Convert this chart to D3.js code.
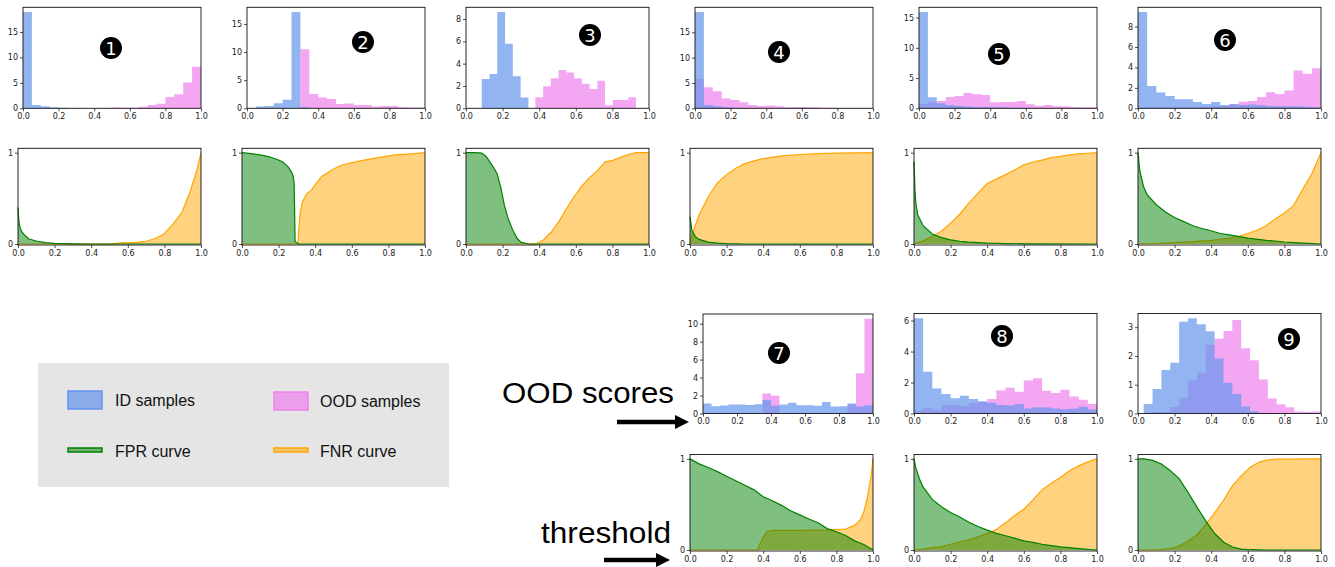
<!DOCTYPE html>
<html><head><meta charset="utf-8">
<script src="https://cdn.jsdelivr.net/npm/d3@7"></script>
<style>body{margin:0;background:#fff}svg{display:block}</style>
</head><body>
<svg id="c" width="1335" height="567"></svg>
<script>
// ---------------- DATA ----------------
const xTicks = [0, 0.2, 0.4, 0.6, 0.8, 1.0];
const curveYTicks = [0, 1];
const histYTicks = [[0,5,10,15],[0,5,10,15],[0,2,4,6,8],[0,5,10,15],[0,5,10,15],[0,2,4,6,8],[0,2,4,6,8,10],[0,2,4,6],[0,1,2,3]];
const panelLabels = ["1","2","3","4","5","6","7","8","9"];

// histogram ranges [lo, hi] (bins are equal width inside range)
const idRange  = [[0,1],[0,1],[0.086,0.341],[0,1],[0,1],[0,1],[0,1],[0,1],[0.031,1.0]];
const oodRange = [[0,1],[0,1],[0.379,0.929],[0,1],[0,1],[0,1],[0,1],[0,1],[0.031,1.0]];

const idCounts1 = [18.9,0.65,0.4,0.2,0.1,0.05,0.03,0.02,0.02,0.02,0.02,0.01,0.01,0.01,0.01,0.01,0.01,0.01,0.01,0.01];
const oodCounts1 = [0,0,0,0,0,0,0,0,0,0.08,0.15,0.12,0.1,0.3,0.65,0.9,2.2,2.75,5.05,8.15];
const idCounts2 = [0.05,0.3,0.4,0.9,1.5,17.1,0.2,0,0,0,0,0,0,0,0,0,0,0,0,0];
const oodCounts2 = [0,0,0,0,0,0,10.5,2.55,1.9,1.65,0.75,0.85,0.6,0.6,0.3,0.4,0.4,0.2,0.15,0.15];
const idCounts3 = [2.63,3.08,8.62,5.78,2.87,0.96];
const oodCounts3 = [0.99,1.98,2.69,3.44,3.2,2.69,2.19,1.74,2.46,0.27,0.75,0.75,0.99];
const idCounts4 = [19.0,0.66,0.4,0.2,0.1,0.05,0.03,0.02,0.02,0.01,0.01,0.01,0.01,0.01,0.01,0.01,0.01,0.01,0.01,0.01];
const oodCounts4 = [5.8,4.16,3.37,1.92,1.65,1.19,0.66,0.46,0.53,0.4,0.2,0.26,0.26,0.2,0.1,0.1,0.05,0.05,0.05,0.05];
const idCounts5 = [15.9,1.82,0.83,0.55,0.39,0.28,0.22,0.2,0.15,0.12,0.1,0.08,0.06,0.05,0.04,0.03,0.02,0.02,0.01,0.01];
const oodCounts5 = [0.72,1.0,1.2,1.88,2.04,2.54,2.32,2.2,1.0,1.05,1.05,1.2,0.66,0.44,0.55,0.33,0.33,0.22,0.17,0.17];
const idCounts6 = [9.41,2.19,1.54,1.21,0.88,0.88,0.62,0.42,0.62,0.33,0.39,0.33,0.36,0.29,0.23,0.2,0.2,0.2,0.15,0.1];
const oodCounts6 = [0.05,0.1,0.1,0.1,0.1,0.1,0.12,0.15,0.2,0.25,0.42,0.65,0.72,1.11,1.57,1.4,1.73,3.69,3.37,3.92];
const idCounts7 = [1.1,0.81,0.88,0.99,0.99,0.96,1.03,1.5,0.85,0.99,1.21,0.92,0.92,0.85,1.29,0.77,0.81,1.1,0.77,0.92];
const oodCounts7 = [0,0,0,0,0,0,0,2.24,1.99,0,0,0,0,0,0,0,0,1.0,4.49,10.55];
const idCounts8 = [6.15,2.7,1.62,1.26,0.98,1.15,0.94,0.79,0.7,0.55,0.51,0.62,0.32,0.4,0.38,0.32,0.28,0.3,0.43,0.26];
const oodCounts8 = [0.19,0.36,0.21,0.55,0.53,0.47,0.66,0.74,0.94,1.49,1.66,1.4,2.13,2.28,1.47,1.32,1.53,1.1,0.89,0.62];
const idCounts9 = [0.33,0.85,1.51,1.76,3.19,3.31,3.1,2.86,1.91,1.07,0.68,0.24,0.08,0.02,0,0,0,0,0,0];
const oodCounts9 = [0,0.05,0.05,0.23,0.55,1.15,1.42,2.39,2.6,2.87,3.25,2.27,1.85,1.18,0.52,0.32,0.22,0.07,0.05,0.07];

// curves: [threshold, rate]
const fpr1 = [[0,0.4],[0.005,0.25],[0.01,0.19],[0.02,0.135],[0.04,0.09],[0.06,0.055],[0.1,0.033],[0.15,0.015],[0.2,0.007],[0.3,0.002],[0.4,0],[1,0]];
const fnr1 = [[0,0],[0.5,0],[0.56,0.012],[0.65,0.018],[0.7,0.03],[0.75,0.06],[0.795,0.106],[0.85,0.226],[0.896,0.347],[0.94,0.57],[0.978,0.81],[1,1]];
const fpr2 = [[0,1],[0.05,0.99],[0.1,0.975],[0.15,0.955],[0.2,0.92],[0.22,0.9],[0.25,0.85],[0.27,0.79],[0.28,0.74],[0.285,0.66],[0.288,0.3],[0.29,0.03],[0.3,0.01],[0.31,0],[1,0]];
const fnr2 = [[0,0],[0.305,0],[0.31,0.15],[0.318,0.34],[0.33,0.46],[0.355,0.555],[0.38,0.59],[0.4,0.65],[0.436,0.74],[0.49,0.81],[0.545,0.865],[0.62,0.9],[0.727,0.94],[0.836,0.975],[0.945,0.99],[1,1]];
const fpr3 = [[0,1],[0.05,1],[0.086,0.995],[0.11,0.96],[0.13,0.9],[0.15,0.84],[0.17,0.77],[0.19,0.62],[0.21,0.42],[0.23,0.28],[0.256,0.15],[0.28,0.06],[0.3,0.02],[0.34,0],[1,0]];
const fnr3 = [[0,0],[0.38,0],[0.421,0.042],[0.464,0.126],[0.506,0.24],[0.548,0.386],[0.591,0.52],[0.633,0.634],[0.675,0.727],[0.717,0.8],[0.76,0.9],[0.802,0.916],[0.844,0.948],[0.887,0.98],[0.929,1],[1,1]];
const fpr4 = [[0,0.3],[0.01,0.15],[0.03,0.08],[0.05,0.05],[0.1,0.02],[0.15,0.01],[0.2,0.005],[0.3,0],[1,0]];
const fnr4 = [[0,0],[0.005,0.05],[0.02,0.15],[0.05,0.32],[0.075,0.42],[0.1,0.52],[0.15,0.67],[0.2,0.76],[0.25,0.83],[0.3,0.88],[0.35,0.91],[0.4,0.935],[0.5,0.965],[0.6,0.98],[0.7,0.99],[0.8,0.995],[1,1]];
const fpr5 = [[0,0.9],[0.005,0.6],[0.01,0.45],[0.02,0.32],[0.05,0.2],[0.1,0.11],[0.15,0.07],[0.2,0.045],[0.25,0.03],[0.3,0.02],[0.4,0.01],[0.5,0.005],[0.6,0.002],[1,0]];
const fnr5 = [[0,0],[0.05,0.034],[0.1,0.082],[0.15,0.139],[0.2,0.229],[0.25,0.326],[0.3,0.447],[0.35,0.557],[0.4,0.662],[0.45,0.71],[0.5,0.76],[0.55,0.81],[0.6,0.867],[0.65,0.898],[0.7,0.919],[0.75,0.945],[0.8,0.96],[0.85,0.976],[0.9,0.986],[0.95,0.994],[1,1]];
const fpr6 = [[0,1],[0.01,0.8],[0.03,0.63],[0.05,0.54],[0.1,0.43],[0.15,0.35],[0.2,0.29],[0.25,0.245],[0.3,0.2],[0.35,0.17],[0.4,0.145],[0.45,0.115],[0.5,0.1],[0.6,0.065],[0.7,0.04],[0.8,0.022],[0.9,0.01],[1,0]];
const fnr6 = [[0,0],[0.1,0.005],[0.2,0.015],[0.3,0.025],[0.4,0.04],[0.45,0.05],[0.5,0.065],[0.55,0.085],[0.6,0.115],[0.65,0.15],[0.7,0.2],[0.75,0.275],[0.8,0.34],[0.85,0.42],[0.9,0.6],[0.95,0.77],[1,1]];
const fpr7 = [[0,1],[0.05,0.945],[0.1,0.905],[0.15,0.86],[0.2,0.81],[0.25,0.76],[0.3,0.71],[0.35,0.66],[0.4,0.585],[0.45,0.54],[0.5,0.49],[0.55,0.43],[0.6,0.385],[0.65,0.34],[0.7,0.3],[0.75,0.235],[0.8,0.2],[0.85,0.16],[0.9,0.1],[0.95,0.06],[1,0]];
const fnr7 = [[0,0],[0.37,0],[0.38,0.06],[0.4,0.14],[0.42,0.2],[0.45,0.215],[0.6,0.215],[0.75,0.22],[0.85,0.23],[0.9,0.27],[0.93,0.33],[0.95,0.42],[0.97,0.58],[0.99,0.82],[1,1]];
const fpr8 = [[0,1],[0.01,0.9],[0.03,0.78],[0.05,0.69],[0.1,0.555],[0.15,0.474],[0.2,0.411],[0.25,0.362],[0.3,0.305],[0.35,0.258],[0.4,0.218],[0.45,0.183],[0.5,0.156],[0.55,0.13],[0.6,0.1],[0.65,0.083],[0.7,0.063],[0.75,0.048],[0.8,0.035],[0.85,0.025],[0.9,0.015],[0.95,0.006],[1,0]];
const fnr8 = [[0,0],[0.05,0.01],[0.1,0.027],[0.15,0.037],[0.2,0.063],[0.25,0.089],[0.3,0.112],[0.35,0.144],[0.4,0.18],[0.45,0.225],[0.5,0.298],[0.55,0.379],[0.6,0.447],[0.65,0.55],[0.7,0.66],[0.75,0.732],[0.8,0.796],[0.85,0.87],[0.9,0.923],[0.95,0.967],[1,1]];
const fpr9 = [[0,1],[0.031,1],[0.08,0.984],[0.128,0.943],[0.177,0.87],[0.225,0.784],[0.274,0.629],[0.323,0.468],[0.371,0.317],[0.42,0.178],[0.468,0.085],[0.517,0.033],[0.565,0.01],[0.614,0.003],[0.7,0],[1,0]];
const fnr9 = [[0,0],[0.08,0],[0.128,0.005],[0.177,0.016],[0.225,0.043],[0.274,0.099],[0.323,0.168],[0.371,0.284],[0.42,0.41],[0.468,0.549],[0.517,0.707],[0.565,0.817],[0.614,0.907],[0.662,0.964],[0.711,0.989],[0.76,0.997],[1,1]];

const legendItems = ["ID samples","OOD samples","FPR curve","FNR curve"];
const sideLabels = ["OOD scores","threshold"];

// ---------------- LAYOUT ----------------
const idCounts = [idCounts1,idCounts2,idCounts3,idCounts4,idCounts5,idCounts6,idCounts7,idCounts8,idCounts9];
const oodCounts = [oodCounts1,oodCounts2,oodCounts3,oodCounts4,oodCounts5,oodCounts6,oodCounts7,oodCounts8,oodCounts9];
const fprs = [fpr1,fpr2,fpr3,fpr4,fpr5,fpr6,fpr7,fpr8,fpr9];
const fnrs = [fnr1,fnr2,fnr3,fnr4,fnr5,fnr6,fnr7,fnr8,fnr9];

const histBoxes = [
  {l:23,r:201,t:7.3,b:108.3},{l:247,r:425,t:7.3,b:108.3},{l:466,r:649,t:7.3,b:108.3},
  {l:695,r:873,t:7.3,b:108.3},{l:919,r:1097,t:7.3,b:108.3},{l:1138,r:1321,t:7.3,b:108.3},
  {l:703,r:873,t:314,b:413.5},{l:914,r:1097,t:313.5,b:413.5},{l:1138,r:1321,t:313.5,b:413.5}];
const curveBoxes = [
  {l:18,r:201,t:148.3,b:245},{l:242,r:425,t:148.3,b:245},{l:466,r:649,t:148.3,b:245},
  {l:690,r:873,t:148.3,b:245},{l:914,r:1097,t:148.3,b:245},{l:1138,r:1321,t:148.3,b:245},
  {l:690,r:873,t:454.5,b:551},{l:914,r:1097,t:454.5,b:551},{l:1138,r:1321,t:454.5,b:551}];
const badgePos = [[111,48],[363,42],[590,35],[779,52],[999,54],[1225,40],[779,353],[1002,336],[1289,339]];

const BLUE = "#6495ed", PINK = "#ee82ee", GREEN = "#008000", ORANGE = "#ffa500";
const svg = d3.select("#c");
svg.append("rect").attr("width",1335).attr("height",567).attr("fill","#fff");

function styleAxis(g){
  g.select(".domain").remove();
  g.selectAll(".tick line").attr("stroke","#222").attr("stroke-width",0.8);
  g.selectAll(".tick text").attr("fill","#222").style("font-family","DejaVu Sans").style("font-size","8px");
}

function drawAxes(g, box, xs, ys, yTicks){
  g.append("g").attr("transform",`translate(0,${box.b})`)
    .call(d3.axisBottom(xs).tickValues(xTicks).tickFormat(d3.format(".1f")).tickSize(3).tickPadding(2))
    .call(styleAxis);
  g.append("g").attr("transform",`translate(${box.l},0)`)
    .call(d3.axisLeft(ys).tickValues(yTicks).tickFormat(d3.format("d")).tickSize(3).tickPadding(2))
    .call(styleAxis);
  g.append("rect").attr("x",box.l).attr("y",box.t).attr("width",box.r-box.l).attr("height",box.b-box.t)
    .attr("fill","none").attr("stroke","#111").attr("stroke-width",0.9);
}

function stepPoints(range, counts){
  const n = counts.length, w = (range[1]-range[0])/n;
  const pts = [[range[0],0]];
  counts.forEach((c,i)=>{ pts.push([range[0]+i*w,c]); pts.push([range[0]+(i+1)*w,c]); });
  pts.push([range[1],0]);
  return pts;
}

for (let i=0;i<9;i++){
  // histogram
  const hb = histBoxes[i];
  const g = svg.append("g");
  const ymax = d3.max(idCounts[i].concat(oodCounts[i]))*1.05;
  const xs = d3.scaleLinear().domain([0,1]).range([hb.l,hb.r]);
  const ys = d3.scaleLinear().domain([0,ymax]).range([hb.b,hb.t]);
  const line = d3.line().x(d=>xs(d[0])).y(d=>ys(d[1]));
  g.append("path").attr("d",line(stepPoints(oodRange[i],oodCounts[i]))+"Z").attr("fill",PINK).attr("fill-opacity",0.7);
  g.append("path").attr("d",line(stepPoints(idRange[i],idCounts[i]))+"Z").attr("fill",BLUE).attr("fill-opacity",0.7);
  drawAxes(g,hb,xs,ys,histYTicks[i]);

  // curves
  const cb = curveBoxes[i];
  const gc = svg.append("g");
  const cx = d3.scaleLinear().domain([0,1]).range([cb.l,cb.r]);
  const cy = d3.scaleLinear().domain([-0.011,1.048]).range([cb.b,cb.t]);
  const area = d3.area().x(d=>cx(d[0])).y0(cy(0)).y1(d=>cy(d[1]));
  const ln = d3.line().x(d=>cx(d[0])).y(d=>cy(d[1]));
  gc.append("path").attr("d",area(fnrs[i])).attr("fill",ORANGE).attr("fill-opacity",0.5);
  gc.append("path").attr("d",ln(fnrs[i])).attr("fill","none").attr("stroke",ORANGE).attr("stroke-width",1.2);
  gc.append("path").attr("d",area(fprs[i])).attr("fill",GREEN).attr("fill-opacity",0.5);
  gc.append("path").attr("d",ln(fprs[i])).attr("fill","none").attr("stroke",GREEN).attr("stroke-width",1.2);
  drawAxes(gc,cb,cx,cy,curveYTicks);

  // badge
  const bp = badgePos[i];
  svg.append("circle").attr("cx",bp[0]).attr("cy",bp[1]).attr("r",11).attr("fill","#000");
  svg.append("text").attr("x",bp[0]).attr("y",bp[1]+6.5).attr("text-anchor","middle")
    .attr("fill","#fff").style("font-family","DejaVu Sans").style("font-size","18px").text(panelLabels[i]);
}

// legend
const lg = svg.append("g");
lg.append("rect").attr("x",38).attr("y",363).attr("width",411).attr("height",124).attr("fill","#e5e5e5");
const legendSpec = [
  {x:68,y:391,h:18,fill:BLUE,fo:0.7,stroke:BLUE,tx:115,ty:406},
  {x:274,y:392,h:18,fill:PINK,fo:0.7,stroke:PINK,tx:320,ty:407},
  {x:68,y:448,h:4,fill:GREEN,fo:0.5,stroke:GREEN,tx:115,ty:457},
  {x:274,y:448,h:4,fill:ORANGE,fo:0.5,stroke:ORANGE,tx:320,ty:457}];
legendSpec.forEach((s,k)=>{
  lg.append("rect").attr("x",s.x).attr("y",s.y).attr("width",34).attr("height",s.h)
    .attr("fill",s.fill).attr("fill-opacity",s.fo).attr("stroke",s.stroke).attr("stroke-width",1.5);
  lg.append("text").attr("x",s.tx).attr("y",s.ty).attr("fill","#111")
    .style("font-family","Liberation Sans").style("font-size","16px").text(legendItems[k]);
});

// side labels and arrows
svg.append("text").attr("x",502).attr("y",403).attr("textLength",172).attr("lengthAdjust","spacingAndGlyphs")
  .style("font-family","Liberation Sans").style("font-size","30px").attr("fill","#000").text(sideLabels[0]);
svg.append("text").attr("x",541).attr("y",543).attr("textLength",130).attr("lengthAdjust","spacingAndGlyphs")
  .style("font-family","Liberation Sans").style("font-size","30px").attr("fill","#000").text(sideLabels[1]);
function arrow(x0,x1,y){
  svg.append("line").attr("x1",x0).attr("x2",x1-12).attr("y1",y).attr("y2",y).attr("stroke","#000").attr("stroke-width",4.5);
  svg.append("path").attr("d",`M${x1-14},${y-7}L${x1},${y}L${x1-14},${y+7}Z`).attr("fill","#000");
}
arrow(617,689,422);
arrow(604,670,560);
</script>
</body></html>
